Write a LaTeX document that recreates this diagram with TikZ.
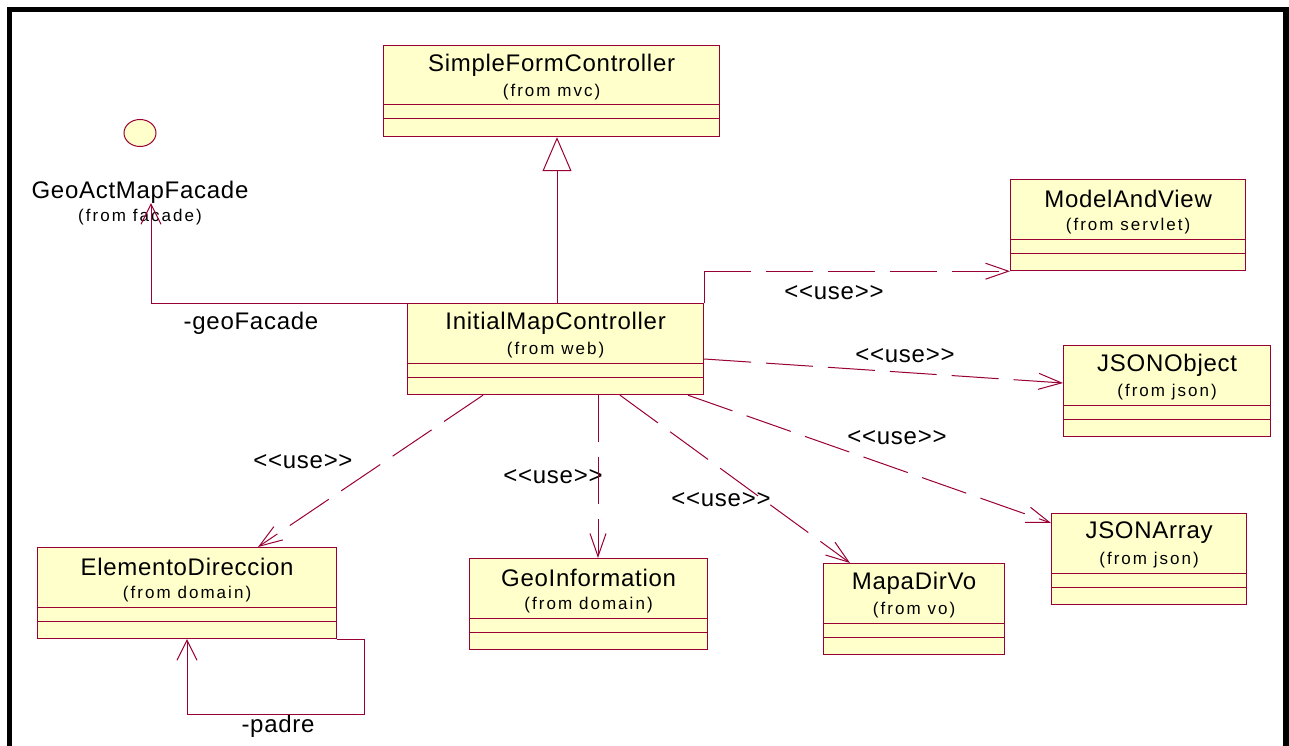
\documentclass[tikz,border=0pt]{standalone}
\usepackage{fontspec}
\setmainfont{Liberation Sans}
\newfontfamily\namefont[LetterSpace=3]{Liberation Sans}
\newfontfamily\pkgfont[LetterSpace=12]{Liberation Sans}
\usetikzlibrary{arrows.meta,calc,scopes,shapes.geometric}
\definecolor{rosered}{RGB}{153,0,51}
\definecolor{roseyellow}{RGB}{255,255,204}

\begin{document}
\begin{tikzpicture}[
    x=1pt, y=-1pt,
    cls/.style={rectangle,draw=rosered,fill=roseyellow,line width=1.2pt,
        minimum height=91pt,inner sep=0pt,anchor=north west},
    compart/.style={draw=rosered,line width=1pt},
    cname/.style={font=\namefont\fontsize{24}{28}\selectfont,inner sep=0pt},
    pkg/.style={font=\pkgfont\fontsize{17}{20}\selectfont,inner sep=0pt},
    lbl/.style={font=\namefont\fontsize{24}{28}\selectfont,inner sep=0pt},
    dep/.style={draw=rosered,line width=1pt,dash pattern=on 47pt off 15pt,
        >={Straight Barb[length=23pt,width=16pt]}},
    assoc/.style={draw=rosered,line width=1pt,
        >={Straight Barb[length=20pt,width=20pt]}},
    gen/.style={draw=rosered,line width=1pt},
    ]
% A class box: node name, top left corner, width, class name, package
\def\umlclass#1#2#3#4#5{%
    \node[cls,minimum width=#3] (#1) at #2 {};
    \draw[compart] ($(#1.north west)+(0,60)$) -- ($(#1.north east)+(0,60)$);
    \draw[compart] ($(#1.north west)+(0,74)$) -- ($(#1.north east)+(0,74)$);
    \node[cname] (#1-name) at ($(#1.north)+(0,20)$) {#4};
    \node[pkg] (#1-pkg) at ($(#1.north)+(0,47)$) {(from #5)};
}

    \useasboundingbox (0,0) rectangle (1289,746);
    \clip (0,0) rectangle (1289,746);
    \fill[white] (0,0) rectangle (1289,746);
    \draw[line width=5.5pt] (9.5,9.5) rectangle (1286,780);

    %% Classes
    \umlclass{sfc}{(383,45)}{336}{SimpleFormController}{mvc}
    \umlclass{imc}{(407,303)}{296}{InitialMapController}{web}
    \umlclass{mav}{(1010,179)}{235}{ModelAndView}{servlet}
    \umlclass{jso}{(1063,345)}{207}{JSONObject}{json}
    \umlclass{jsa}{(1051,513)}{195}{JSONArray}{json}
    \umlclass{ed}{(37,547)}{299}{ElementoDireccion}{domain}
    \umlclass{gi}{(469,558)}{238}{GeoInformation}{domain}
    \umlclass{mdv}{(823,563)}{181}{MapaDirVo}{vo}

    % Interface
    \node[ellipse,draw=rosered,fill=roseyellow,line width=1pt,
        minimum width=32pt,minimum height=27pt,inner sep=0pt] (gaf) at (140,133) {};
    \node[lbl,anchor=base] (gaf-name) at (140,198) {GeoActMapFacade};
    \node[pkg] (gaf-pkg) at (140,217) {(from facade)};

    % Labels
    \node[lbl] (geofacade) at (251,323) {-geoFacade};
    \node[lbl] (padre) at (278,726) {-padre};
    \node[lbl] (use-mav) at (834,293) {<{}<use>{}>};
    \node[lbl] (use-jso) at (905,356) {<{}<use>{}>};
    \node[lbl] (use-jsa) at (897,438) {<{}<use>{}>};
    \node[lbl] (use-mdv) at (721,500) {<{}<use>{}>};
    \node[lbl] (use-gi) at (553,477) {<{}<use>{}>};
    \node[lbl] (use-ed) at (303,462) {<{}<use>{}>};

    % Generalization
    \draw[gen,-{Triangle[open,length=34pt,width=29pt]}]
        ($(imc.north west)+(150,0)$) -- ($(sfc.south west)+(174,0)$);

    % Associations
    \draw[assoc,->] (imc.north west) -| ($(gaf-name.south)+(11,0)$);
    \draw[assoc,->] (ed.south east) -- ++(27,0) -- ++(0,75)
        -| ($(ed.south west)+(150,0)$);

    % Dependencies. The first one keeps its short vertical leg solid.
    {[dep,->]
        \draw[dash pattern=on 79pt off 15pt on 47pt off 15pt on 47pt off 15pt
            on 47pt off 15pt on 47pt off 15pt on 47pt off 15pt]
            (imc.north east) |- (mav.south west);
        \draw ($(imc.north east)+(0,56)$) -- ($(jso.north west)+(0,38)$);
        \draw ($(imc.south west)+(281,0)$) -- ($(jsa.north west)+(0,10)$);
        \draw ($(imc.south west)+(213,0)$) -- ($(mdv.north west)+(27,0)$);
        \draw ($(imc.south west)+(191,0)$) -- ($(gi.north west)+(129,0)$);
        \draw ($(imc.south west)+(76,0)$) -- ($(ed.north west)+(221,0)$);
    }
\end{tikzpicture}
\end{document}
